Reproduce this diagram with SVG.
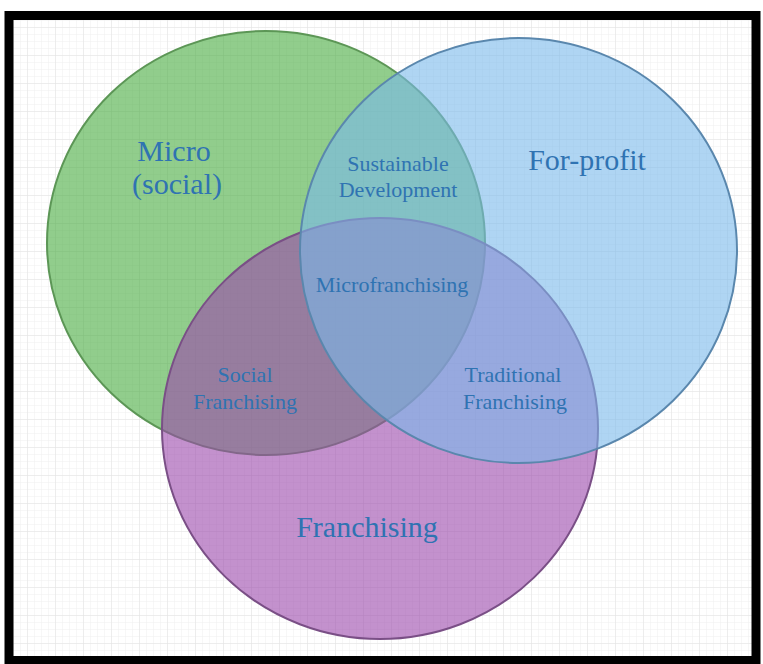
<svg xmlns="http://www.w3.org/2000/svg" width="763" height="664" viewBox="0 0 763 664">
  <defs>
    <pattern id="minor" width="7" height="7" patternUnits="userSpaceOnUse">
      <path d="M7 0V7M0 7H7" fill="none" stroke="#efefef" stroke-width="1"/>
    </pattern>
    <pattern id="major" width="28" height="28" patternUnits="userSpaceOnUse">
      <path d="M28 0V28M0 28H28" fill="none" stroke="#e3e3e3" stroke-width="1"/>
    </pattern>
  </defs>
  <style>
    .set { stroke-width: 2; }
    .big { font-family: "Liberation Serif", "Times New Roman", serif; font-size: 30px; fill: #2f73b2; text-anchor: middle; }
    .small { font-family: "Liberation Serif", "Times New Roman", serif; font-size: 22px; fill: #2f73b2; text-anchor: middle; }
  </style>
  <rect x="0" y="0" width="763" height="664" fill="#ffffff"/>
  <rect x="13" y="20" width="739" height="637" fill="url(#minor)"/>
  <rect x="13" y="20" width="739" height="637" fill="url(#major)"/>

  <g id="micro">
    <ellipse class="set" cx="266" cy="243" rx="219" ry="212" fill="#48ac3f" fill-opacity="0.6" stroke="#5c9656"/>
  </g>
  <g id="franchising">
    <ellipse class="set" cx="380" cy="428.5" rx="218" ry="210.5" fill="#9b48ac" fill-opacity="0.6" stroke="#7a4f86"/>
  </g>
  <g id="forprofit">
    <ellipse class="set" cx="518.5" cy="250.5" rx="218.5" ry="212.5" fill="#7ab9eb" fill-opacity="0.6" stroke="#5a87ad"/>
  </g>

  <g id="connectors"></g>

  <g id="labels">
    <g id="label-micro">
      <text class="big" x="174" y="161">Micro</text>
      <text class="big" x="177" y="194">(social)</text>
    </g>
    <g id="label-forprofit">
      <text class="big" x="587" y="170">For-profit</text>
    </g>
    <g id="label-franchising">
      <text class="big" x="367" y="537">Franchising</text>
    </g>
    <g id="label-sustainable">
      <text class="small" x="398" y="171">Sustainable</text>
      <text class="small" x="398" y="197">Development</text>
    </g>
    <g id="label-microfranchising">
      <text class="small" x="392" y="292">Microfranchising</text>
    </g>
    <g id="label-social">
      <text class="small" x="245" y="382">Social</text>
      <text class="small" x="245" y="409">Franchising</text>
    </g>
    <g id="label-traditional">
      <text class="small" x="513" y="382">Traditional</text>
      <text class="small" x="515" y="409">Franchising</text>
    </g>
  </g>

  <rect x="9" y="15.5" width="747" height="645" fill="none" stroke="#000000" stroke-width="9"/>
</svg>
